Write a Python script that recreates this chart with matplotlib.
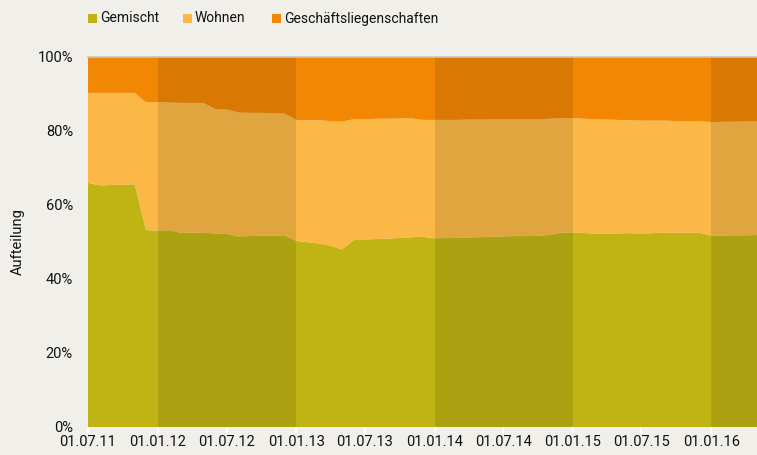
import matplotlib
matplotlib.use("Agg")
import matplotlib.pyplot as plt
import matplotlib.dates as mdates
from matplotlib.patches import Rectangle
import numpy as np
import pandas as pd

plt.rcParams['font.family'] = ['Roboto', 'DejaVu Sans']

dates = pd.date_range("2011-07-01", "2016-05-01", freq="MS")

gemischt = [66.0, 65.3, 65.4, 65.5, 65.6, 53.2, 53.1, 53.2, 52.5, 52.5,
            52.5, 52.3, 52.2, 51.5, 51.6, 51.7, 51.7, 51.8, 50.3, 49.9,
            49.6, 49.0, 48.0, 50.5, 50.7, 50.8, 50.9, 51.1, 51.3, 51.4,
            51.0, 51.1, 51.1, 51.2, 51.3, 51.4, 51.5, 51.6, 51.6, 51.7,
            51.9, 52.5, 52.6, 52.4, 52.3, 52.3, 52.3, 52.4, 52.3, 52.4,
            52.5, 52.5, 52.5, 52.5, 51.7, 51.7, 51.8, 51.8, 51.9]
wohnen = [24.3, 25.0, 24.9, 24.8, 24.7, 34.6, 34.7, 34.5, 35.1, 35.1,
          35.1, 33.6, 33.6, 33.5, 33.3, 33.2, 33.1, 32.9, 32.7, 33.0,
          33.3, 33.7, 34.5, 32.7, 32.5, 32.5, 32.4, 32.3, 32.1, 31.6,
          32.0, 31.9, 31.9, 31.9, 31.8, 31.7, 31.7, 31.6, 31.6, 31.5,
          31.4, 31.0, 30.9, 30.9, 30.9, 30.8, 30.7, 30.5, 30.5, 30.4,
          30.3, 30.2, 30.2, 30.2, 30.7, 30.8, 30.7, 30.8, 30.7]
geschaeft = [9.7, 9.7, 9.7, 9.7, 9.7, 12.2, 12.2, 12.3, 12.4, 12.4,
             12.4, 14.1, 14.2, 15.0, 15.1, 15.1, 15.2, 15.3, 17.0, 17.1,
             17.1, 17.3, 17.5, 16.8, 16.8, 16.7, 16.7, 16.6, 16.6, 17.0,
             17.0, 17.0, 17.0, 16.9, 16.9, 16.9, 16.8, 16.8, 16.8, 16.8,
             16.7, 16.5, 16.5, 16.7, 16.8, 16.9, 17.0, 17.1, 17.2, 17.2,
             17.2, 17.3, 17.3, 17.3, 17.6, 17.5, 17.5, 17.4, 17.4]

series_names = ["Gemischt", "Wohnen", "Geschäftsliegenschaften"]
colors = ["#C0B414", "#FBB847", "#F28704"]

tick_dates = pd.to_datetime(["2011-07-01", "2012-01-01", "2012-07-01", "2013-01-01",
                             "2013-07-01", "2014-01-01", "2014-07-01", "2015-01-01",
                             "2015-07-01", "2016-01-01"])
tick_labels = ["01.07.11", "01.01.12", "01.07.12", "01.01.13", "01.07.13",
               "01.01.14", "01.07.14", "01.01.15", "01.07.15", "01.01.16"]
shade_spans = [("2012-01-01", "2013-01-01"), ("2014-01-01", "2015-01-01"),
               ("2016-01-01", "2016-05-01")]

bg = "#F0EFEA"
W, H = 757, 455
fig = plt.figure(figsize=(W / 100, H / 100), dpi=100, facecolor=bg)
ax = fig.add_axes([88 / W, (H - 427) / H, (757 - 88) / W, (427 - 57) / H])
ax.set_facecolor(bg)

x = mdates.date2num(dates)
ax.stackplot(x, gemischt, wohnen, geschaeft, colors=colors, linewidth=0)

for a, b in shade_spans:
    ax.axvspan(mdates.date2num(pd.Timestamp(a)), mdates.date2num(pd.Timestamp(b)),
               color="black", alpha=0.1, lw=0, zorder=3)

ax.axhline(100, color="#C8C6C0", lw=1.2, zorder=4, clip_on=False)

fs = 10.5
ax.set_xlim(x[0], x[-1])
ax.set_ylim(0, 100)
ax.set_xticks(mdates.date2num(tick_dates))
ax.set_xticklabels(tick_labels, fontsize=fs, color="#111111")
ax.set_yticks([0, 20, 40, 60, 80, 100])
ax.set_yticklabels(["0%", "20%", "40%", "60%", "80%", "100%"], fontsize=fs, color="#111111")
ax.tick_params(axis="x", length=4, width=1.2, color="white", pad=2)
ax.tick_params(axis="y", length=0, pad=10.8)
for s in ax.spines.values():
    s.set_visible(False)
ax.set_ylabel("Aufteilung", fontsize=fs, color="#111111")
ax.yaxis.set_label_coords((18 - 88) / 669, 0.5)
ax.yaxis.label.set_va("center")

# legend
leg = [(88, 100), (183, 195), (272, 284)]
for (sx, tx), name, c in zip(leg, series_names, colors):
    fig.add_artist(Rectangle((sx / W, 1 - 22.7 / H), 9 / W, 9 / H,
                             transform=fig.transFigure, color=c, lw=0))
    fig.text(tx / W, 1 - 18.5 / H, name, fontsize=10, color="#111111",
             va="center", ha="left")

fig.savefig("out.png", dpi=100, facecolor=bg)
